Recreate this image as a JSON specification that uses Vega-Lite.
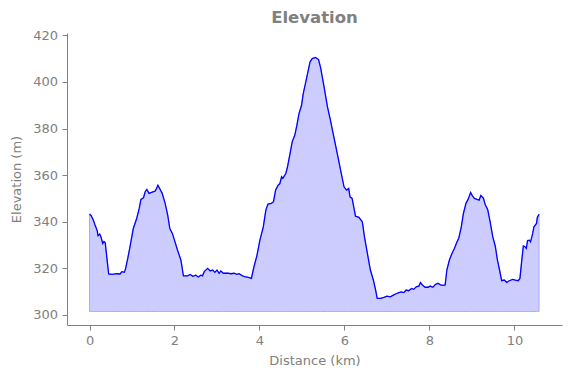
{
  "$schema": "https://vega.github.io/schema/vega-lite/v6.json",
  "width": 495,
  "height": 292,
  "autosize": {"type": "none"},
  "padding": {"left": 67, "top": 33, "right": 9, "bottom": 53},
  "title": {"text": "Elevation", "font": "DejaVu Sans", "fontSize": 16.5, "fontWeight": "bold", "color": "#808080", "offset": 3},
  "config": {
    "view": {"stroke": null},
    "axis": {
      "grid": false,
      "labelFont": "DejaVu Sans", "labelFontSize": 13, "labelColor": "#808080",
      "titleFont": "DejaVu Sans", "titleFontSize": 13, "titleColor": "#808080", "titleFontWeight": "normal",
      "domainColor": "#808080", "tickColor": "#808080", "tickSize": 5, "labelPadding": 4.5
    }
  },
  "data": {"values": [
    {"d":0.00,"e":343.3},{"d":0.04,"e":342.6},{"d":0.09,"e":340.7},{"d":0.13,"e":338.6},{"d":0.18,"e":336.2},
    {"d":0.20,"e":334.0},{"d":0.24,"e":334.7},{"d":0.27,"e":333.5},{"d":0.31,"e":330.7},{"d":0.34,"e":331.5},
    {"d":0.37,"e":331.0},{"d":0.41,"e":324.3},{"d":0.45,"e":317.6},{"d":0.53,"e":317.4},{"d":0.64,"e":317.7},
    {"d":0.72,"e":317.6},{"d":0.76,"e":318.6},{"d":0.82,"e":318.3},{"d":0.85,"e":320.0},{"d":0.90,"e":324.3},
    {"d":0.96,"e":330.0},{"d":1.03,"e":337.1},{"d":1.11,"e":341.4},{"d":1.17,"e":345.7},{"d":1.21,"e":349.6},
    {"d":1.27,"e":350.3},{"d":1.31,"e":352.9},{"d":1.35,"e":353.9},{"d":1.40,"e":352.2},{"d":1.46,"e":352.6},
    {"d":1.54,"e":353.1},{"d":1.57,"e":354.0},{"d":1.61,"e":355.7},{"d":1.65,"e":354.3},{"d":1.71,"e":352.2},
    {"d":1.78,"e":347.9},{"d":1.84,"e":342.9},{"d":1.89,"e":337.1},{"d":1.95,"e":335.0},{"d":2.01,"e":331.5},
    {"d":2.07,"e":327.9},{"d":2.15,"e":323.6},{"d":2.21,"e":316.8},{"d":2.31,"e":316.8},{"d":2.37,"e":317.4},
    {"d":2.43,"e":316.6},{"d":2.50,"e":317.1},{"d":2.56,"e":316.3},{"d":2.62,"e":317.1},{"d":2.66,"e":316.8},
    {"d":2.70,"e":318.6},{"d":2.78,"e":320.0},{"d":2.84,"e":318.9},{"d":2.90,"e":319.3},{"d":2.95,"e":318.3},
    {"d":3.00,"e":319.3},{"d":3.05,"e":317.9},{"d":3.09,"e":318.9},{"d":3.15,"e":317.9},{"d":3.25,"e":318.0},
    {"d":3.33,"e":317.7},{"d":3.40,"e":317.9},{"d":3.47,"e":317.4},{"d":3.52,"e":317.7},{"d":3.60,"e":316.8},
    {"d":3.68,"e":316.3},{"d":3.76,"e":316.0},{"d":3.81,"e":315.7},{"d":3.87,"e":320.7},{"d":3.94,"e":325.5},
    {"d":4.01,"e":332.1},{"d":4.09,"e":337.8},{"d":4.15,"e":345.0},{"d":4.20,"e":347.6},{"d":4.28,"e":347.9},
    {"d":4.33,"e":348.6},{"d":4.38,"e":353.6},{"d":4.44,"e":355.7},{"d":4.48,"e":356.4},{"d":4.52,"e":359.3},
    {"d":4.55,"e":358.6},{"d":4.62,"e":360.7},{"d":4.66,"e":363.6},{"d":4.72,"e":369.3},{"d":4.77,"e":374.3},
    {"d":4.83,"e":377.1},{"d":4.88,"e":381.4},{"d":4.93,"e":386.4},{"d":4.99,"e":390.0},{"d":5.03,"e":395.0},
    {"d":5.09,"e":400.0},{"d":5.14,"e":404.3},{"d":5.19,"e":408.6},{"d":5.24,"e":410.0},{"d":5.32,"e":410.5},
    {"d":5.39,"e":409.6},{"d":5.44,"e":406.0},{"d":5.52,"e":397.9},{"d":5.60,"e":389.3},{"d":5.67,"e":383.6},
    {"d":5.75,"e":376.4},{"d":5.83,"e":369.3},{"d":5.91,"e":362.1},{"d":5.99,"e":355.0},{"d":6.05,"e":353.6},
    {"d":6.10,"e":354.3},{"d":6.13,"e":350.7},{"d":6.18,"e":350.0},{"d":6.26,"e":342.4},{"d":6.34,"e":341.9},
    {"d":6.42,"e":340.0},{"d":6.47,"e":333.6},{"d":6.54,"e":326.4},{"d":6.61,"e":319.3},{"d":6.68,"e":315.0},
    {"d":6.73,"e":311.0},{"d":6.77,"e":307.1},{"d":6.85,"e":307.1},{"d":6.93,"e":307.6},{"d":7.00,"e":308.1},
    {"d":7.08,"e":307.8},{"d":7.16,"e":308.6},{"d":7.20,"e":309.0},{"d":7.28,"e":309.6},{"d":7.34,"e":309.9},
    {"d":7.40,"e":309.6},{"d":7.45,"e":310.7},{"d":7.51,"e":310.4},{"d":7.58,"e":311.4},{"d":7.63,"e":311.0},
    {"d":7.69,"e":312.1},{"d":7.75,"e":312.4},{"d":7.79,"e":313.9},{"d":7.84,"e":312.7},{"d":7.90,"e":311.9},
    {"d":7.97,"e":311.9},{"d":8.02,"e":312.4},{"d":8.08,"e":311.9},{"d":8.14,"e":313.1},{"d":8.20,"e":313.6},
    {"d":8.26,"e":312.9},{"d":8.33,"e":312.7},{"d":8.37,"e":312.9},{"d":8.41,"e":319.3},{"d":8.47,"e":323.6},
    {"d":8.53,"e":326.4},{"d":8.59,"e":328.6},{"d":8.65,"e":331.4},{"d":8.69,"e":332.9},{"d":8.75,"e":337.8},
    {"d":8.80,"e":343.6},{"d":8.86,"e":347.9},{"d":8.91,"e":349.6},{"d":8.97,"e":352.6},{"d":9.00,"e":351.4},
    {"d":9.06,"e":350.0},{"d":9.12,"e":349.6},{"d":9.17,"e":349.3},{"d":9.21,"e":351.3},{"d":9.27,"e":350.2},
    {"d":9.31,"e":347.5},{"d":9.37,"e":345.3},{"d":9.43,"e":339.8},{"d":9.49,"e":333.6},{"d":9.55,"e":329.5},
    {"d":9.60,"e":323.6},{"d":9.65,"e":319.3},{"d":9.70,"e":314.7},{"d":9.76,"e":315.0},{"d":9.82,"e":314.0},
    {"d":9.88,"e":314.7},{"d":9.96,"e":315.3},{"d":10.02,"e":315.0},{"d":10.09,"e":314.7},{"d":10.13,"e":315.7},
    {"d":10.17,"e":322.9},{"d":10.21,"e":329.6},{"d":10.25,"e":329.3},{"d":10.28,"e":328.6},{"d":10.31,"e":331.9},
    {"d":10.35,"e":332.1},{"d":10.38,"e":331.4},{"d":10.43,"e":335.0},{"d":10.46,"e":337.8},{"d":10.52,"e":339.3},
    {"d":10.54,"e":341.9},{"d":10.58,"e":343.2}
  ]},
  "encoding": {
    "x": {"field": "d", "type": "quantitative",
      "scale": {"domain": [-0.53, 11.12], "nice": false, "zero": false},
      "axis": {"title": "Distance (km)", "values": [0, 2, 4, 6, 8, 10], "titlePadding": 7}},
    "y": {"field": "e", "type": "quantitative",
      "scale": {"domain": [295.7, 421], "nice": false, "zero": false},
      "axis": {"title": "Elevation (m)", "values": [300, 320, 340, 360, 380, 400, 420], "titlePadding": 9}}
  },
  "layer": [
    {"mark": {"type": "area", "fill": "#ccccff", "stroke": "#a8a8ff", "strokeWidth": 1, "opacity": 1},
     "encoding": {"y2": {"datum": 301.5}}},
    {"mark": {"type": "line", "color": "#0000ff", "strokeWidth": 1.3}}
  ]
}
